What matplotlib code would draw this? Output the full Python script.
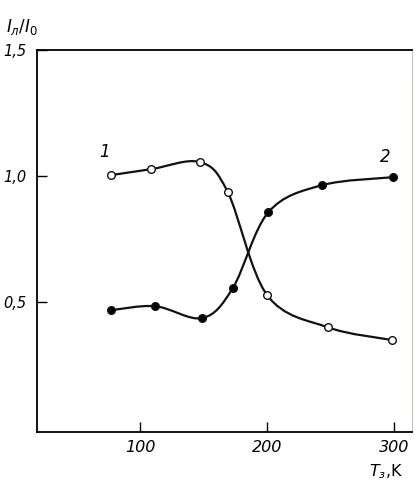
import numpy as np
import matplotlib.pyplot as plt
from matplotlib.path import Path
from matplotlib.patches import PathPatch

# curve 1 (open circles) and curve 2 (filled circles)
t1 = [77, 109, 147, 169, 200, 248, 298]
r1 = [1.004, 1.028, 1.056, 0.937, 0.528, 0.400, 0.350]
t2 = [77, 112, 149, 173, 201, 243, 299]
r2 = [0.468, 0.484, 0.437, 0.556, 0.857, 0.964, 0.996]

xticks = [100, 200, 300]
yticks = [0.5, 1.0, 1.5]
ytick_labels = ['0,5', '1,0', '1,5']

FONT = ['DejaVu Sans']


def smooth_path(x, y):
    # Catmull-Rom through the points, written as cubic Bezier segments
    p = np.column_stack([x, y]).astype(float)
    verts = [p[0]]
    codes = [Path.MOVETO]
    for i in range(len(p) - 1):
        p0 = p[i - 1] if i > 0 else p[i]
        p3 = p[i + 2] if i + 2 < len(p) else p[i + 1]
        c1 = p[i] + (p[i + 1] - p0) / 6.0
        c2 = p[i + 1] - (p3 - p[i]) / 6.0
        verts += [c1, c2, p[i + 1]]
        codes += [Path.CURVE4] * 3
    return Path(verts, codes)


def main():
    fig = plt.figure(figsize=(4.17, 4.87), dpi=100)
    ax = fig.add_axes([0.089, 0.113, 0.899, 0.784])

    for x, y, face in [(t1, r1, 'white'), (t2, r2, 'black')]:
        ax.add_patch(PathPatch(smooth_path(x, y), fill=False, lw=1.6,
                               edgecolor='#111111', transform=ax.transData, zorder=2))
        ax.plot(x, y, ls='none', marker='o', ms=5.5, mfc=face, mec='#111111',
                mew=1.0, zorder=3)

    ax.set_xlim(19, 314)
    ax.set_ylim(-0.015, 1.5)
    ax.set_xticks(xticks)
    ax.set_xticklabels([str(v) for v in xticks])
    ax.set_yticks(yticks)
    ax.set_yticklabels(ytick_labels)
    ax.tick_params(direction='in', length=7, width=1.0, pad=6)
    ax.tick_params(axis='y', pad=8)
    for lab in ax.get_xticklabels() + ax.get_yticklabels():
        lab.set_family(FONT)
        lab.set_style('italic')
        lab.set_fontsize(11.5)
    for lab in ax.get_yticklabels():
        lab.set_fontsize(10.5)

    for side in ['left', 'bottom', 'top']:
        ax.spines[side].set_linewidth(1.3)
    ax.spines['right'].set_linewidth(0.6)
    ax.spines['right'].set_color('#bbbbaa')

    ax.text(72, 1.095, '1', family=FONT, style='italic', fontsize=12,
            ha='center', va='center')
    ax.text(293, 1.075, '2', family=FONT, style='italic', fontsize=12,
            ha='center', va='center')

    fig.text(0.015, 0.935, r'$I_л/I_0$', fontsize=12, family=FONT)
    fig.text(0.885, 0.022, r'$T_з$,K', fontsize=11.5, family=FONT)

    fig.savefig('out.png', dpi=100)


if __name__ == '__main__':
    main()
